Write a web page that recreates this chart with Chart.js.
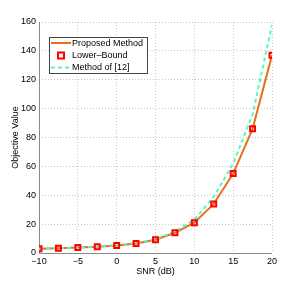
<!DOCTYPE html>
<html>
<head>
<meta charset="utf-8">
<script src="https://cdn.jsdelivr.net/npm/chart.js@4"></script>
<style>
  html, body { margin: 0; padding: 0; background: #fff; }
  #wrap { width: 300px; height: 286px; }
</style>
</head>
<body>
<div id="wrap"><canvas id="canvas" width="300" height="286"></canvas></div>
<script>
// data
const snr = [-10, -7.5, -5, -2.5, 0, 2.5, 5, 7.5, 10, 12.5, 15, 17.5, 20];
const proposed = [3, 3.3, 3.8, 4.3, 5.2, 6.6, 9.2, 14, 21, 34, 55, 86, 137];
const lowerBound = [3, 3.3, 3.8, 4.3, 5.2, 6.6, 9.2, 14, 21, 34, 55, 86, 137];
const method12 = [3, 3.3, 3.8, 4.5, 5.5, 7, 9.6, 14.8, 23, 39, 62, 96, 158];
const xTicks = [-10, -5, 0, 5, 10, 15, 20];
const yTicks = [0, 20, 40, 60, 80, 100, 120, 140, 160];
const names = ['Proposed Method', 'Lower\u2013Bound', 'Method of [12]'];

const FONT = 'Liberation Sans, Arial, Helvetica, sans-serif';
const ORANGE = '#e8701a';
const RED = '#ff0000';
const CYAN = '#5cf5c0';

function pts(ys) {
    return snr.map((x, i) => ({x: x, y: ys[i]}));
}

// solid left + bottom axis lines (grid itself is dotted)
const axisLines = {
    id: 'axisLines',
    beforeDatasetsDraw(chart) {
        const c = chart.ctx, a = chart.chartArea;
        c.save();
        c.strokeStyle = '#8a8a8a';
        c.lineWidth = 1;
        c.beginPath();
        c.moveTo(Math.round(a.left) + 0.5, a.top);
        c.lineTo(Math.round(a.left) + 0.5, Math.round(a.bottom) + 0.5);
        c.lineTo(a.right, Math.round(a.bottom) + 0.5);
        c.stroke();
        c.restore();
    }
};

// legend drawn inside the axes, matlab style
const boxLegend = {
    id: 'boxLegend',
    afterDatasetsDraw(chart) {
        const c = chart.ctx;
        const x0 = 49, y0 = 37, w = 98, h = 36;
        c.save();
        c.fillStyle = '#fff';
        c.fillRect(x0, y0, w, h);
        c.strokeStyle = '#444';
        c.lineWidth = 1;
        c.strokeRect(x0 + 0.5, y0 + 0.5, w, h);
        c.font = '9px ' + FONT;
        c.textBaseline = 'middle';
        c.fillStyle = '#000';
        const rows = [43, 55.5, 67.5];
        chart.data.datasets.forEach((ds, i) => {
            const y = rows[i];
            if (ds.showLine === false) {
                c.strokeStyle = ds.pointBorderColor;
                c.lineWidth = 2;
                c.strokeRect(58, y - 3, 6, 6);
            } else {
                c.strokeStyle = ds.borderColor;
                c.lineWidth = ds.borderWidth;
                c.setLineDash(ds.borderDash || []);
                c.beginPath();
                c.moveTo(51, y);
                c.lineTo(71, y);
                c.stroke();
                c.setLineDash([]);
            }
            c.fillText(ds.label, 72, y + 0.5);
        });
        c.restore();
    }
};

const ctx = document.getElementById('canvas').getContext('2d');
new Chart(ctx, {
    type: 'scatter',
    data: {
        datasets: [{
            label: names[0],
            data: pts(proposed),
            showLine: true,
            borderColor: ORANGE,
            borderWidth: 2,
            pointRadius: 0,
            order: 3
        }, {
            label: names[1],
            data: pts(lowerBound),
            showLine: false,
            pointStyle: 'rect',
            pointRadius: 3.5,
            pointBorderWidth: 2,
            pointBorderColor: RED,
            pointBackgroundColor: 'rgba(0,0,0,0)',
            order: 1
        }, {
            label: names[2],
            data: pts(method12),
            showLine: true,
            borderColor: CYAN,
            borderWidth: 2,
            borderDash: [4, 3],
            pointRadius: 0,
            order: 2
        }]
    },
    options: {
        responsive: false,
        animation: false,
        layout: { padding: { left: 0, right: 28, top: 22, bottom: 0 } },
        plugins: {
            legend: { display: false },
            tooltip: { enabled: false }
        },
        scales: {
            x: {
                type: 'linear',
                min: -10,
                max: 20,
                afterBuildTicks: s => { s.ticks = xTicks.map(v => ({value: v})); },
                afterFit: s => { s.height = 33; },
                ticks: {
                    color: '#000',
                    font: { family: FONT, size: 9 },
                    padding: 3,
                    maxRotation: 0,
                    callback: v => String(v).replace('-', '\u2212')
                },
                grid: {
                    color: '#c8c8c8',
                    tickLength: 0,
                    drawTicks: false
                },
                border: { display: false, dash: [1, 2] },
                title: {
                    display: true,
                    text: 'SNR (dB)',
                    color: '#000',
                    font: { family: FONT, size: 9 },
                    padding: { top: 0, bottom: 9 }
                }
            },
            y: {
                min: 0,
                max: 160,
                afterBuildTicks: s => { s.ticks = yTicks.map(v => ({value: v})); },
                afterFit: s => { s.width = 39; },
                ticks: {
                    color: '#000',
                    font: { family: FONT, size: 9 },
                    padding: 3
                },
                grid: {
                    color: '#c8c8c8',
                    tickLength: 0,
                    drawTicks: false
                },
                border: { display: false, dash: [1, 2] },
                title: {
                    display: true,
                    text: 'Objective Value',
                    color: '#000',
                    font: { family: FONT, size: 9 },
                    padding: { top: 10, bottom: 0 }
                }
            }
        }
    },
    plugins: [axisLines, boxLegend]
});
</script>
</body>
</html>
